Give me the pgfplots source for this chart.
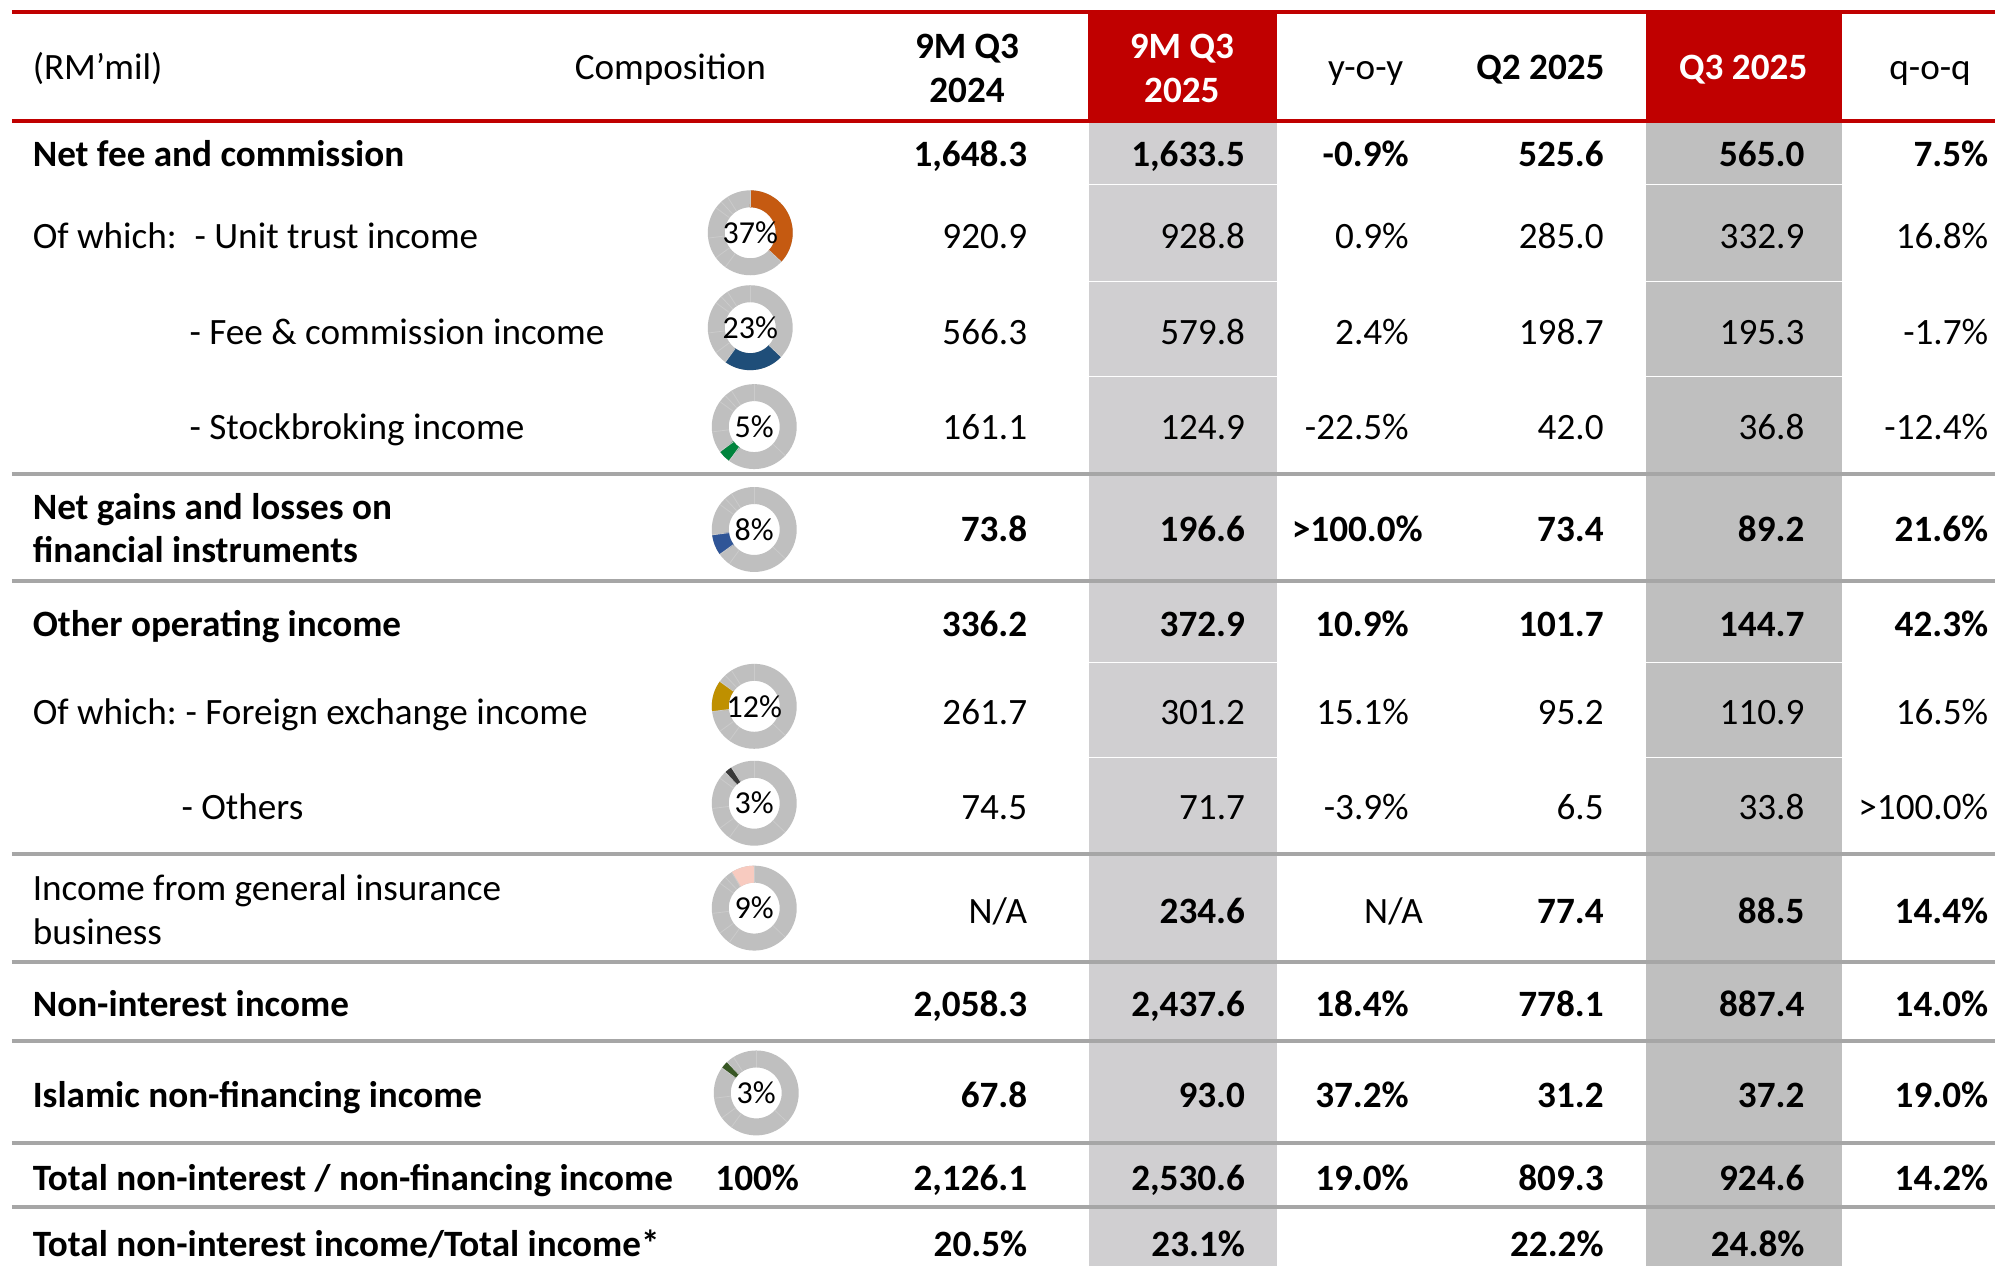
\documentclass[border=0pt]{standalone}
\usepackage{fontspec}
\setmainfont{Carlito}
\usepackage{pgfplots}
\pgfplotsset{compat=1.18}

\definecolor{hdrred}{HTML}{C00000}
\definecolor{colA}{HTML}{D0CFD1}
\definecolor{colB}{HTML}{BFBFBF}
\definecolor{rulegray}{HTML}{A6A6A6}
\definecolor{ringgray}{HTML}{BFBFBF}
\definecolor{sepgray}{HTML}{CBCBCB}
\definecolor{cUnit}{HTML}{C55A11}
\definecolor{cFee}{HTML}{1F4E79}
\definecolor{cStock}{HTML}{00843D}
\definecolor{cGains}{HTML}{2F5597}
\definecolor{cFx}{HTML}{BF9000}
\definecolor{cOth}{HTML}{3A3A3A}
\definecolor{cIns}{HTML}{F8CBC0}
\definecolor{cIsl}{HTML}{375623}

% column right edges (reference pixels)
\def\cA{1029}\def\cB{1247}\def\cC{1411}\def\cD{1606}\def\cE{1807}\def\cF{1991}

\newcommand{\R}[3]{\node[anchor=base east,inner sep=0pt] at (axis cs:#1,#2) {#3};}
\newcommand{\Lt}[3]{\node[anchor=base west,inner sep=0pt] at (axis cs:#1,#2) {#3};}
\newcommand{\Ct}[3]{\node[anchor=base,inner sep=0pt] at (axis cs:#1,#2) {#3};}
% one row of figures: baseline, then six columns
\newcommand{\row}[7]{\R{\cA}{#1}{#2}\R{\cB}{#1}{#3}\R{\cC}{#1}{#4}\R{\cD}{#1}{#5}\R{\cE}{#1}{#6}\R{\cF}{#1}{#7}}
\newcommand{\brow}[7]{\row{#1}{\bfseries #2}{\bfseries #3}{\bfseries #4}{\bfseries #5}{\bfseries #6}{\bfseries #7}}

\newcommand{\sep}[3]{\draw[sepgray,line width=0.2pt] (axis cs:#1,#2) ++(#3:6.4pt) -- ++(#3:4.2pt);}
% donut: cx, cy, start angle, end angle, colour, label
\newcommand{\donut}[6]{%
  \draw[line width=4.25pt,ringgray] (axis cs:#1,#2) circle[radius=8.5pt];
  \draw[line width=4.25pt,#5] (axis cs:#1,#2) ++(#3:8.5pt) arc[start angle=#3,end angle=#4,radius=8.5pt];
  \sep{#1}{#2}{90}\sep{#1}{#2}{-43.2}\sep{#1}{#2}{-126}\sep{#1}{#2}{-144}
  \sep{#1}{#2}{-172.8}\sep{#1}{#2}{-216}\sep{#1}{#2}{-226.8}\sep{#1}{#2}{-237.6}
  \node[inner sep=0pt,font=\fontsize{8}{9}\selectfont] at (axis cs:#1,#2) {#6};
}

\begin{document}
\begin{tikzpicture}
\begin{axis}[
  x=0.25pt, y=0.25pt, y dir=reverse,
  xmin=0, xmax=1997, ymin=0, ymax=1267,
  hide axis, scale only axis, clip=false,
  font=\fontsize{9.3}{11}\selectfont,
]
\fill[white] (axis cs:0,0) rectangle (axis cs:1997,1267);

% shaded columns and red header cells
\fill[colA] (axis cs:1090,121) rectangle (axis cs:1278,1267);
\fill[colB] (axis cs:1648,121) rectangle (axis cs:1844,1267);
\fill[hdrred] (axis cs:1089,12) rectangle (axis cs:1278,121);
\fill[hdrred] (axis cs:1648,12) rectangle (axis cs:1844,121);
\foreach \yy in {185,282,377,663,758}{
  \edef\tmp{\noexpand\draw[white,line width=0.3pt] (axis cs:1086,\yy) -- (axis cs:1282,\yy);
    \noexpand\draw[white,line width=0.3pt] (axis cs:1645,\yy) -- (axis cs:1847,\yy);}\tmp}

% rules
\draw[hdrred,line width=1pt] (axis cs:12,12) -- (axis cs:1997,12);
\draw[hdrred,line width=1pt] (axis cs:12,121) -- (axis cs:1997,121);
\foreach \yy in {474,582,855,963,1042,1144,1208}{
  \edef\tmp{\noexpand\draw[rulegray,line width=1pt] (axis cs:12,\yy) -- (axis cs:1997,\yy);}\tmp}

% header
\Lt{32}{80}{(RM’mil)}
\Ct{671}{80}{Composition}
\Ct{968}{59}{\bfseries 9M Q3}\Ct{968}{103}{\bfseries 2024}
\Ct{1183}{59}{\bfseries\color{white}9M Q3}\Ct{1183}{103}{\bfseries\color{white}2025}
\Ct{1367}{80}{y-o-y}
\Ct{1542}{80}{\bfseries Q2 2025}
\Ct{1745}{80}{\bfseries\color{white}Q3 2025}
\Ct{1932}{80}{q-o-q}

% row labels
\Lt{32}{167}{\bfseries Net fee and commission}
\Lt{32}{249}{Of which:}\Lt{194}{249}{- Unit trust income}
\Lt{189}{345}{- Fee \& commission income}
\Lt{189}{440}{- Stockbroking income}
\Lt{32}{520}{\bfseries Net gains and losses on}
\Lt{32}{563}{\bfseries financial instruments}
\Lt{32}{637}{\bfseries Other operating income}
\Lt{32}{725}{Of which:}\Lt{185}{725}{- Foreign exchange income}
\Lt{181}{820}{- Others}
\Lt{32}{901}{Income from general insurance}
\Lt{32}{945}{business}
\Lt{32}{1017}{\bfseries Non-interest income}
\Lt{32}{1109}{\bfseries Islamic non-financing income}
\Lt{32}{1192}{\bfseries Total non-interest / non-financing income}
\Lt{32}{1258}{\bfseries Total non-interest income/Total income*}
\Ct{758}{1192}{\bfseries 100\%}

% figures
\brow{167}{1,648.3}{1,633.5}{-0.9\%}{525.6}{565.0}{7.5\%}
\row{249}{920.9}{928.8}{0.9\%}{285.0}{332.9}{16.8\%}
\row{345}{566.3}{579.8}{2.4\%}{198.7}{195.3}{-1.7\%}
\row{440}{161.1}{124.9}{-22.5\%}{42.0}{36.8}{-12.4\%}
\R{\cA}{542}{\bfseries 73.8}\R{\cB}{542}{\bfseries 196.6}\R{1425}{542}{\bfseries >100.0\%}
\R{\cD}{542}{\bfseries 73.4}\R{\cE}{542}{\bfseries 89.2}\R{\cF}{542}{\bfseries 21.6\%}
\brow{637}{336.2}{372.9}{10.9\%}{101.7}{144.7}{42.3\%}
\row{725}{261.7}{301.2}{15.1\%}{95.2}{110.9}{16.5\%}
\row{820}{74.5}{71.7}{-3.9\%}{6.5}{33.8}{>100.0\%}
\R{\cA}{924}{N/A}\R{\cB}{924}{\bfseries 234.6}\R{1425}{924}{N/A}
\R{\cD}{924}{\bfseries 77.4}\R{\cE}{924}{\bfseries 88.5}\R{\cF}{924}{\bfseries 14.4\%}
\brow{1017}{2,058.3}{2,437.6}{18.4\%}{778.1}{887.4}{14.0\%}
\brow{1109}{67.8}{93.0}{37.2\%}{31.2}{37.2}{19.0\%}
\brow{1192}{2,126.1}{2,530.6}{19.0\%}{809.3}{924.6}{14.2\%}
\R{\cA}{1258}{\bfseries 20.5\%}\R{\cB}{1258}{\bfseries 23.1\%}
\R{\cD}{1258}{\bfseries 22.2\%}\R{\cE}{1258}{\bfseries 24.8\%}

% composition donuts (share of total, clockwise from the top)
\donut{751}{233}{90}{-43.2}{cUnit}{37\%}
\donut{751}{328}{-43.2}{-126}{cFee}{23\%}
\donut{755}{427}{-126}{-144}{cStock}{5\%}
\donut{755}{530}{-144}{-172.8}{cGains}{8\%}
\donut{755}{707}{-172.8}{-216}{cFx}{12\%}
\donut{755}{804}{-226.8}{-237.6}{cOth}{3\%}
\donut{755}{909}{-237.6}{-270}{cIns}{9\%}
\donut{757}{1094}{-216}{-226.8}{cIsl}{3\%}
\end{axis}
\end{tikzpicture}
\end{document}
